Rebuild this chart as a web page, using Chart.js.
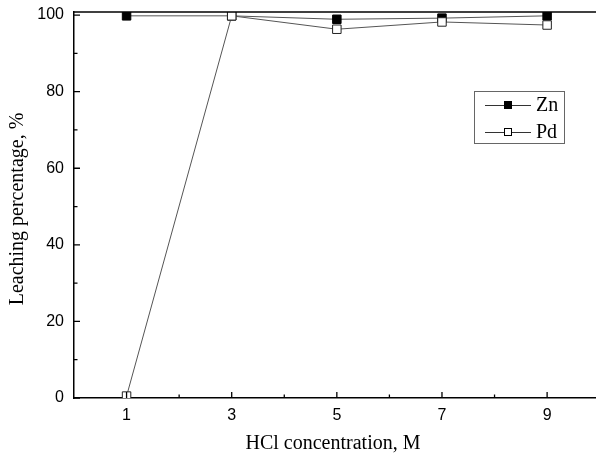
<!DOCTYPE html>
<html>
<head>
<meta charset="utf-8">
<script src="https://cdn.jsdelivr.net/npm/chart.js@4.4.1/dist/chart.umd.min.js"></script>
<style>
  html, body { margin: 0; padding: 0; background: #fff; }
  #wrap { width: 596px; height: 456px; position: relative; }
</style>
</head>
<body>
<div id="wrap"><canvas id="leachChart"></canvas></div>
<script>
// data
const hclConc = [1, 3, 5, 7, 9];
const znLeach = [99.8, 99.8, 98.9, 99.2, 99.8];
const pdLeach = [0.5, 99.8, 96.3, 98.2, 97.4];
const xTicks = [1, 3, 5, 7, 9];
const xMinorTicks = [2, 4, 6, 8];
const yTicks = [0, 20, 40, 60, 80, 100];
const yMinorTicks = [10, 30, 50, 70, 90];

const serif = "'Liberation Serif', 'Times New Roman', serif";
const sans = "'Liberation Sans', Arial, sans-serif";

// frame, inward ticks, axis titles and legend box
const framePlugin = {
    id: 'frame',
    afterDraw(chart) {
        const ctx = chart.ctx;
        const a = chart.chartArea;
        const xs = chart.scales.x, ys = chart.scales.y;
        ctx.save();
        ctx.strokeStyle = '#000';
        ctx.lineWidth = 1.5;
        ctx.beginPath();
        ctx.moveTo(a.left, a.top);
        ctx.lineTo(a.right, a.top);
        ctx.stroke();

        ctx.lineWidth = 1.3;
        ctx.beginPath();
        xTicks.forEach(v => { const px = xs.getPixelForValue(v); ctx.moveTo(px, a.bottom); ctx.lineTo(px, a.bottom - 6); });
        xMinorTicks.forEach(v => { const px = xs.getPixelForValue(v); ctx.moveTo(px, a.bottom); ctx.lineTo(px, a.bottom - 3.5); });
        yTicks.forEach(v => { const py = ys.getPixelForValue(v); ctx.moveTo(a.left, py); ctx.lineTo(a.left + 6, py); });
        yMinorTicks.forEach(v => { const py = ys.getPixelForValue(v); ctx.moveTo(a.left, py); ctx.lineTo(a.left + 3.5, py); });
        ctx.stroke();

        // axis titles
        ctx.fillStyle = '#000';
        ctx.font = '20px ' + serif;
        ctx.textAlign = 'center';
        ctx.textBaseline = 'middle';
        ctx.fillText('HCl concentration, M', 333, 444);
        ctx.translate(18, 209);
        ctx.rotate(-Math.PI / 2);
        ctx.fillText('Leaching percentage, %', 0, 0);
        ctx.restore();

        // legend
        ctx.save();
        ctx.strokeStyle = '#666';
        ctx.lineWidth = 1;
        ctx.strokeRect(474.5, 91.5, 90, 52);
        const rows = [105, 132];
        chart.data.datasets.forEach((ds, i) => {
            const y = rows[i];
            ctx.strokeStyle = '#333';
            ctx.lineWidth = 1;
            ctx.beginPath();
            ctx.moveTo(485, y + 0.5);
            ctx.lineTo(531, y + 0.5);
            ctx.stroke();
            ctx.fillStyle = ds.pointBackgroundColor;
            ctx.fillRect(504, y - 4, 8, 8);
            ctx.strokeStyle = '#000';
            ctx.strokeRect(504.5, y - 3.5, 7, 7);
            ctx.fillStyle = '#000';
            ctx.font = '20px ' + serif;
            ctx.textAlign = 'left';
            ctx.textBaseline = 'middle';
            ctx.fillText(ds.label, 536, y + 1);
        });
        ctx.restore();
    }
};

const leachCtx = document.getElementById('leachChart').getContext('2d');
const leachChart = new Chart(leachCtx, {
    type: 'line',
    data: {
        datasets: [
            {
                label: 'Zn',
                data: hclConc.map((x, i) => ({ x: x, y: znLeach[i] })),
                borderColor: '#555',
                borderWidth: 1,
                pointStyle: 'rect',
                pointRadius: 6,
                pointBackgroundColor: '#000',
                pointBorderColor: '#000',
                pointBorderWidth: 1,
                order: 1
            },
            {
                label: 'Pd',
                data: hclConc.map((x, i) => ({ x: x, y: pdLeach[i] })),
                borderColor: '#555',
                borderWidth: 1,
                pointStyle: 'rect',
                pointRadius: 6,
                pointBackgroundColor: '#fff',
                pointBorderColor: '#222',
                pointBorderWidth: 1,
                order: 0
            }
        ]
    },
    options: {
        responsive: true,
        maintainAspectRatio: false,
        animation: false,
        layout: { autoPadding: false, padding: { top: 12, right: 0, left: 0, bottom: 0 } },
        plugins: {
            legend: { display: false },
            tooltip: { enabled: false }
        },
        scales: {
            x: {
                type: 'linear',
                min: 0,
                max: 9.93,
                grid: { display: false, drawTicks: false },
                border: { display: true, color: '#000', width: 1.5 },
                afterBuildTicks: s => { s.ticks = xTicks.map(v => ({ value: v })); },
                afterFit: s => { s.height = 58; s.paddingLeft = 0; s.paddingRight = 0; },
                ticks: {
                    padding: 8,
                    color: '#000',
                    font: { family: sans, size: 16 },
                    maxRotation: 0
                }
            },
            y: {
                min: 0,
                max: 100.8,
                grid: { display: false, drawTicks: false },
                border: { display: true, color: '#000', width: 1.5 },
                afterBuildTicks: s => { s.ticks = yTicks.map(v => ({ value: v })); },
                afterFit: s => { s.width = 74; s.paddingTop = 0; s.paddingBottom = 0; },
                ticks: {
                    padding: 10,
                    color: '#000',
                    font: { family: sans, size: 16 }
                }
            }
        }
    },
    plugins: [framePlugin]
});
</script>
</body>
</html>
